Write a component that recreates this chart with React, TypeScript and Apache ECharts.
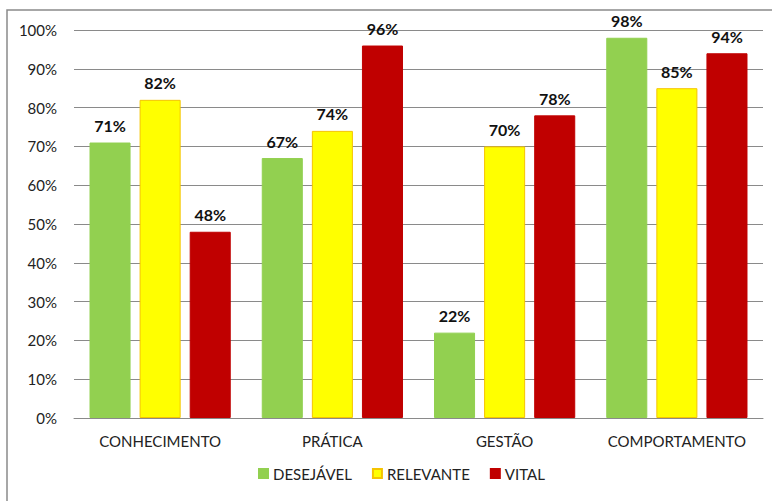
import React, { useEffect, useRef } from "react";
import * as echarts from "echarts";

const categories = ["CONHECIMENTO", "PRÁTICA", "GESTÃO", "COMPORTAMENTO"];
const desejavel = [71, 67, 22, 98];
const relevante = [82, 74, 70, 85];
const vital = [48, 96, 78, 94];
const seriesNames = ["DESEJÁVEL", "RELEVANTE", "VITAL"];
const colors = ["#92D050", "#FFFF00", "#C00000"];
const borders = ["#92D050", "#F5C400", "#C00000"];

const FONT = "Lato, 'Open Sans', sans-serif";

export default function App() {
  const ref = useRef<HTMLDivElement>(null);
  useEffect(() => {
    if (!ref.current) return;
    const chart = echarts.init(ref.current, undefined, { renderer: "svg" });
    const data = [desejavel, relevante, vital];
    chart.setOption({
      animation: false,
      backgroundColor: "#ffffff",
      textStyle: { fontFamily: FONT },
      graphic: [
        {
          type: "rect",
          shape: { x: 7, y: 10, width: 820, height: 560 },
          style: { fill: "none", stroke: "#8a8a8a", lineWidth: 1.5 },
          silent: true,
          z: -1,
        },
      ],
      grid: { left: 74, right: 9, top: 30, bottom: 83, containLabel: false },
      legend: {
        bottom: 15,
        left: 253,
        itemWidth: 9,
        itemHeight: 9,
        itemGap: 20,
        icon: "rect",
        textStyle: { fontFamily: FONT, fontSize: 15, color: "#222" },
        data: seriesNames,
      },
      xAxis: {
        type: "category",
        data: categories,
        axisLine: { lineStyle: { color: "#8a8a8a", width: 1 } },
        axisTick: { show: false },
        axisLabel: {
          interval: 0,
          hideOverlap: false,
          fontFamily: FONT,
          fontSize: 15,
          color: "#222",
          margin: 15,
        },
      },
      yAxis: {
        type: "value",
        min: 0,
        max: 100,
        interval: 10,
        axisLine: { show: false },
        axisTick: { show: false },
        splitLine: { lineStyle: { color: "#8a8a8a", width: 1 } },
        axisLabel: {
          fontFamily: FONT,
          fontSize: 15,
          color: "#222",
          margin: 17,
          formatter: "{value}%",
        },
      },
      series: seriesNames.map((name, i) => ({
        name,
        type: "bar",
        data: data[i],
        barGap: "22%",
        barCategoryGap: "18%",
        itemStyle: { color: colors[i], borderColor: borders[i], borderWidth: 1 },
        label: {
          show: true,
          position: "top",
          distance: 9,
          formatter: "{c}%",
          fontFamily: FONT,
          fontWeight: "bold",
          fontSize: 16,
          color: "#111",
        },
      })),
    });
    return () => chart.dispose();
  }, []);
  return (
    <div
      ref={ref}
      style={{ position: "absolute", left: 0, top: 0, width: 772, height: 501 }}
    />
  );
}
